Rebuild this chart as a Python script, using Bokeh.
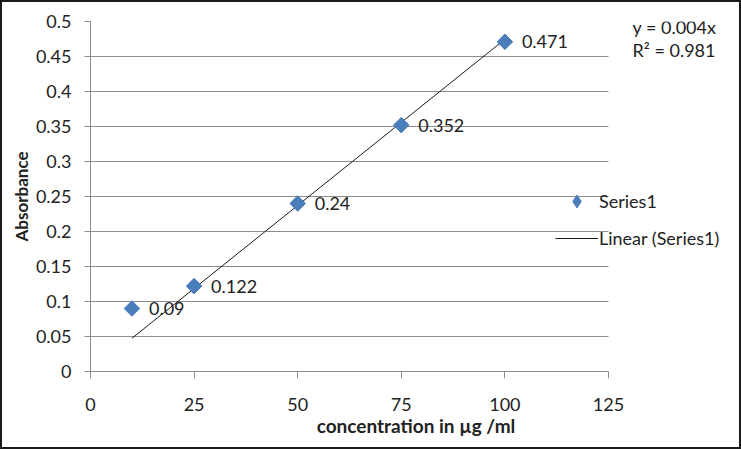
import numpy as np
from bokeh.plotting import figure
from bokeh.models import FixedTicker, Label, Legend, LegendItem
from bokeh.core.properties import value
from bokeh.embed import file_html
from bokeh.resources import INLINE

# ---- data ----
concentration = [10, 25, 50, 75, 100]
absorbance = [0.09, 0.122, 0.24, 0.352, 0.471]
point_labels = ["0.09", "0.122", "0.24", "0.352", "0.471"]
x_ticks = [0, 25, 50, 75, 100, 125]
y_ticks = [0, 0.05, 0.1, 0.15, 0.2, 0.25, 0.3, 0.35, 0.4, 0.45, 0.5]
y_tick_labels = ["0", "0.05", "0.1", "0.15", "0.2", "0.25", "0.3", "0.35", "0.4", "0.45", "0.5"]
equation_text = "y = 0.004x"
r2_text = "R\u00b2 = 0.981"
series_name = "Series1"
trend_name = "Linear (Series1)"
x_title = "concentration in \u00b5g /ml"
y_title = "Absorbance"

FONT = "Lato"
GRID = "#8c8c8c"
TXT = "#222222"
BLUE = "#4a7ebb"

W, H = 741, 449
LEFT, TOP, BOTTOM_PX = 90, 21, 371      # frame edges in page pixels
AXIS_END_PX = 608                       # pixel where x = 125 sits
X_MAX = x_ticks[-1]
frame_w = W - LEFT
x_end = X_MAX * frame_w / (AXIS_END_PX - LEFT)

p = figure(width=W, height=H, x_range=(0, x_end), y_range=(0, 0.5),
           output_backend="svg", toolbar_location=None,
           min_border_left=LEFT, min_border_right=0,
           min_border_top=TOP, min_border_bottom=H - BOTTOM_PX)
p.outline_line_color = None
p.border_fill_color = None
p.background_fill_color = None
p.styles = {"outline": "2px solid #1a1a1a", "outline-offset": "-2px"}

# grid
p.xgrid.visible = False
p.ygrid.ticker = FixedTicker(ticks=y_ticks)
p.ygrid.grid_line_color = GRID
p.ygrid.grid_line_width = 1
p.ygrid.cross_bounds = (0, X_MAX)

# axes
for ax in (p.xaxis[0], p.yaxis[0]):
    ax.axis_line_color = GRID
    ax.major_tick_line_color = GRID
    ax.major_tick_in = 0
    ax.minor_tick_line_color = None
    ax.major_label_text_font = FONT
    ax.major_label_text_font_size = "18px"
    ax.major_label_text_color = TXT
    ax.axis_label_text_font = FONT
    ax.axis_label_text_font_style = "bold"
    ax.axis_label_text_color = TXT

p.xaxis.ticker = FixedTicker(ticks=x_ticks)
p.xaxis.bounds = (0, X_MAX)
p.xaxis.major_tick_out = 7
p.xaxis.major_label_standoff = 19
p.xaxis.axis_label = x_title
p.xaxis.axis_label_text_font_size = "19px"
p.xaxis.axis_label_standoff = 0

p.yaxis.ticker = FixedTicker(ticks=y_ticks)
p.yaxis.major_label_overrides = dict(zip(y_ticks, y_tick_labels))
p.yaxis.major_tick_out = 6
p.yaxis.major_label_standoff = 13
p.yaxis.axis_label = y_title
p.yaxis.axis_label_text_font_size = "17px"
p.yaxis.axis_label_standoff = 1

# linear trend through origin (fitted from the data)
xa = np.array(concentration, dtype=float)
ya = np.array(absorbance, dtype=float)
slope = float((xa * ya).sum() / (xa * xa).sum())
trend_x = [xa.min(), xa.max()]
trend_y = [slope * v for v in trend_x]
line_r = p.line(trend_x, trend_y, line_color="#1a1a1a", line_width=1)

# diamond-marker renderer (gives the legend its diamond key; legend keys
# ignore marker rotation), fully covered by the rotated-square points
key_r = p.scatter(concentration, absorbance, marker="diamond", size=14,
                  fill_color=BLUE, line_color=BLUE)
pts = p.scatter(concentration, absorbance, marker="square", angle=np.pi / 4,
                size=11, fill_color=BLUE, line_color=BLUE)

p.text(x=concentration, y=absorbance, text=point_labels, x_offset=17,
       text_baseline="middle", text_align="left", text_font=value(FONT),
       text_font_size="18px", text_color=TXT)

legend = Legend(items=[LegendItem(label=series_name, renderers=[key_r]),
                       LegendItem(label=trend_name, renderers=[line_r])],
                location=(555 - LEFT, 117), padding=0, margin=0, spacing=5,
                glyph_width=43, glyph_height=32, label_height=20,
                label_standoff=1, border_line_color=None,
                background_fill_alpha=0, label_text_font=FONT,
                label_text_font_size="18px", label_text_color=TXT,
                label_text_baseline="middle")
p.add_layout(legend)

p.add_layout(Label(x=632 - LEFT, y=BOTTOM_PX - 26, x_units="screen", y_units="screen",
                   text=equation_text, text_baseline="middle",
                   text_font=FONT, text_font_size="18px", text_color=TXT))
p.add_layout(Label(x=632 - LEFT, y=BOTTOM_PX - 49, x_units="screen", y_units="screen",
                   text=r2_text, text_baseline="middle",
                   text_font=FONT, text_font_size="18px", text_color=TXT))

open("out.html", "w").write(file_html(p, INLINE))
